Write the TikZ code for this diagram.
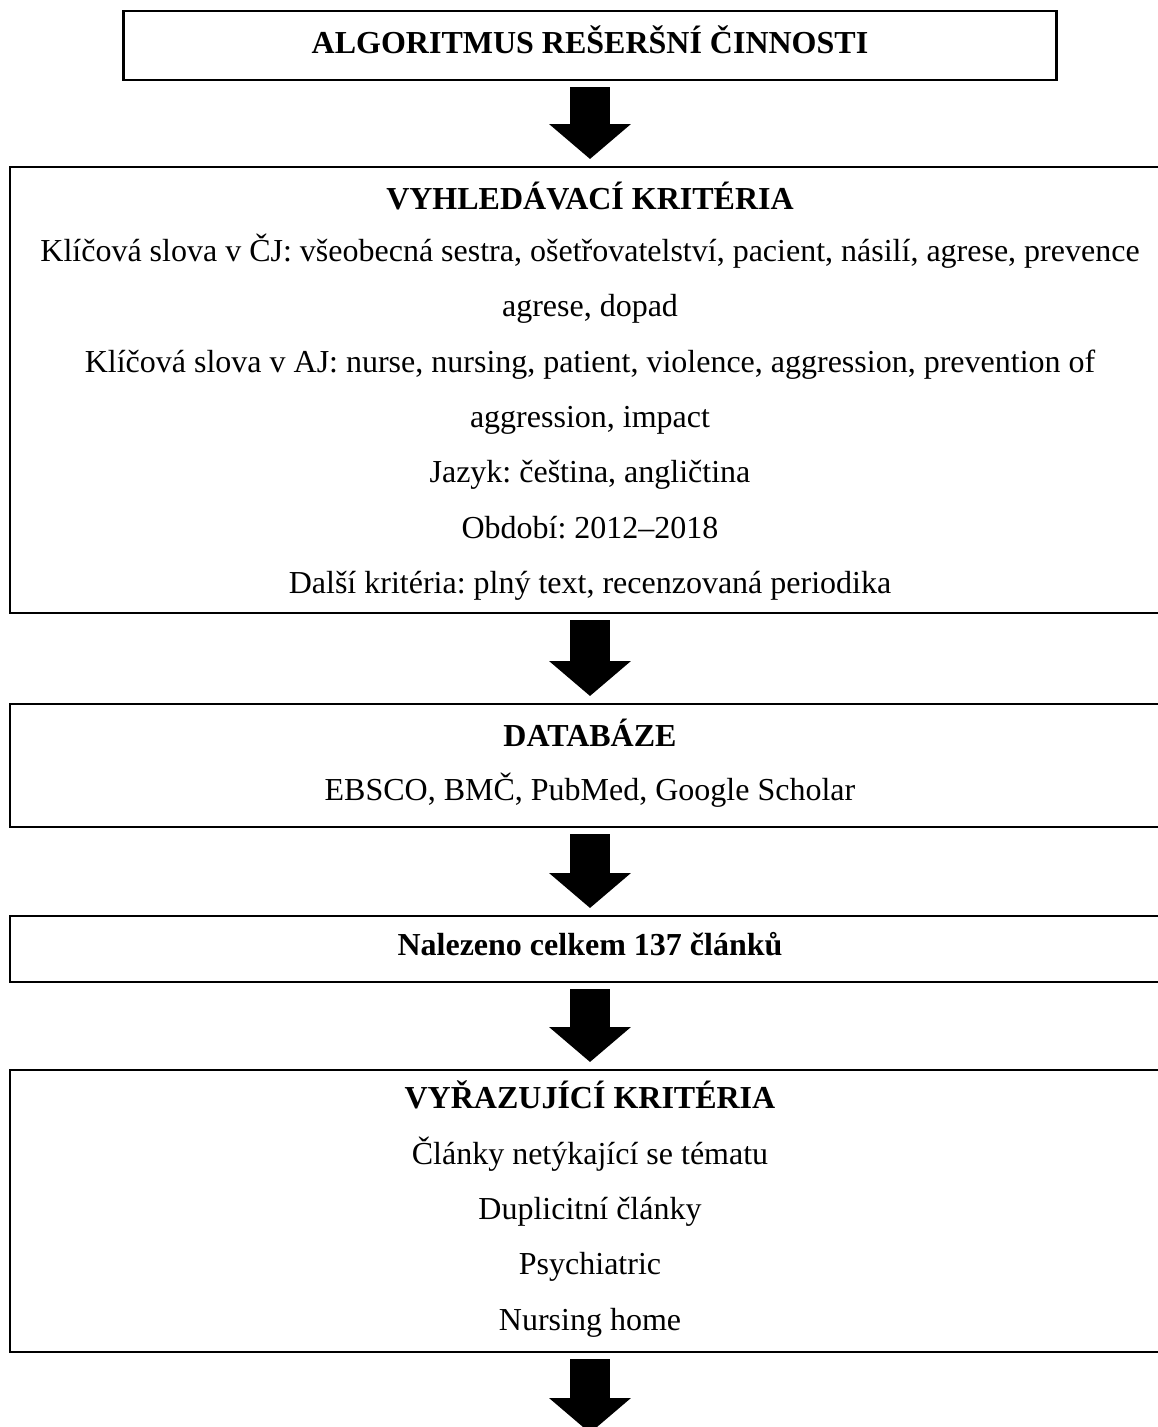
\documentclass[tikz,border=0pt]{standalone}
\usepackage{fontspec}
\setmainfont{Liberation Serif}
\usetikzlibrary{arrows.meta}
\frenchspacing
\begin{document}
\begin{tikzpicture}[x=1pt,y=-1pt,
  box/.style={draw,line width=2.5pt,rectangle,inner sep=0pt,outer sep=0pt},
  txt/.style={anchor=base,inner sep=0pt,font=\fontsize{32}{38}\selectfont\frenchspacing},
  hd/.style={anchor=base,inner sep=0pt,font=\fontsize{32}{38}\selectfont\bfseries\frenchspacing},
  flow/.style={line width=40pt,-{Triangle[width=80pt,length=35pt]},shorten <=7pt,shorten >=8pt}]
\useasboundingbox (0,0) rectangle (1158,1427);
\clip (0,0) rectangle (1158,1427);
% boxes
\node[box,minimum width=933pt,minimum height=69pt] (b1) at (590,45.5) {};
\node[box,minimum width=1160pt,minimum height=446pt] (b2) at (590,390) {};
\node[box,minimum width=1160pt,minimum height=123pt] (b3) at (590,765.5) {};
\node[box,minimum width=1160pt,minimum height=66pt] (b4) at (590,949) {};
\node[box,minimum width=1160pt,minimum height=282pt] (b5) at (590,1211) {};
\coordinate (end) at (590,1441);
% texts
\node[hd] (t1) at (590,53) {ALGORITMUS REŠERŠNÍ ČINNOSTI};
\node[hd] (t2) at (590,209) {VYHLEDÁVACÍ KRITÉRIA};
\node[txt] (t2a) at (590,261.5) {Klíčová slova v ČJ: všeobecná sestra, ošetřovatelství, pacient, násilí, agrese, prevence};
\node[txt] (t2b) at (590,316.8) {agrese, dopad};
\node[txt] (t2c) at (590,372.1) {Klíčová slova v AJ: nurse, nursing, patient, violence, aggression, prevention of};
\node[txt] (t2d) at (590,427.4) {aggression, impact};
\node[txt] (t2e) at (590,482.7) {Jazyk: čeština, angličtina};
\node[txt] (t2f) at (590,538) {Období: 2012–2018};
\node[txt] (t2g) at (590,593.3) {Další kritéria: plný text, recenzovaná periodika};
\node[hd] (t3) at (590,746) {DATABÁZE};
\node[txt] (t3a) at (590,800) {EBSCO, BMČ, PubMed, Google Scholar};
\node[hd] (t4) at (590,955) {Nalezeno celkem 137 článků};
\node[hd] (t5) at (590,1108) {VYŘAZUJÍCÍ KRITÉRIA};
\node[txt] (t5a) at (590,1164) {Články netýkající se tématu};
\node[txt] (t5b) at (590,1219) {Duplicitní články};
\node[txt] (t5c) at (590,1274) {Psychiatric};
\node[txt] (t5d) at (590,1330) {Nursing home};
% arrows
\draw[flow] (b1.south) -- (b2.north);
\draw[flow] (b2.south) -- (b3.north);
\draw[flow] (b3.south) -- (b4.north);
\draw[flow] (b4.south) -- (b5.north);
\draw[flow] (b5.south) -- (end);
\end{tikzpicture}
\end{document}
